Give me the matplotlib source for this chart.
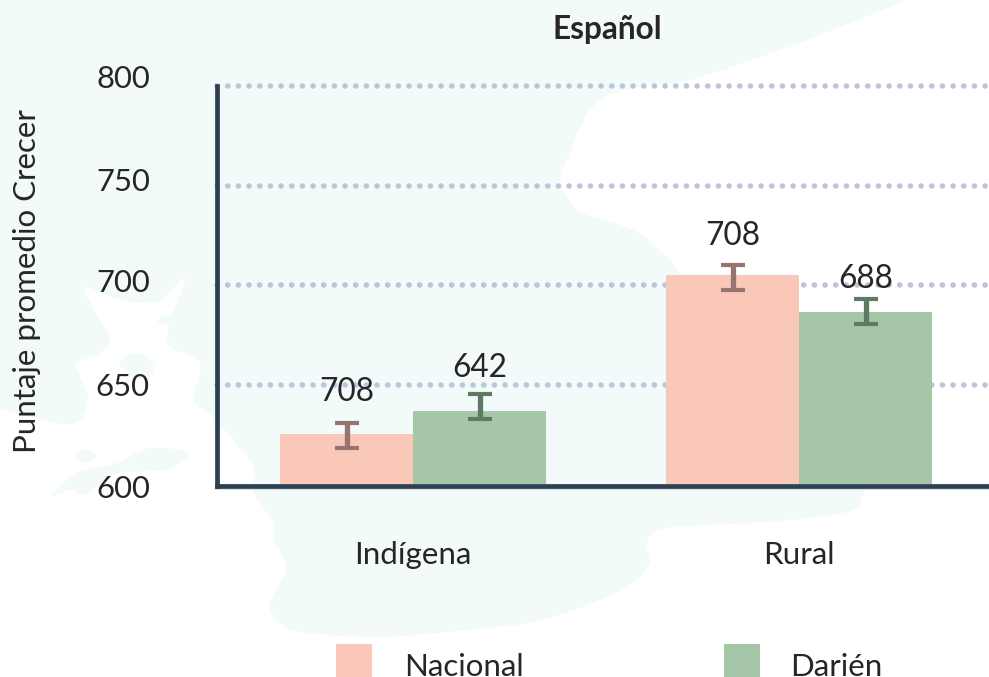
import numpy as np
import matplotlib
matplotlib.use('Agg')
import matplotlib.pyplot as plt
from matplotlib.patches import PathPatch, Ellipse
from matplotlib.path import Path
from matplotlib.transforms import Affine2D, ScaledTranslation

plt.rcParams['font.family'] = ['Lato', 'Carlito', 'Open Sans', 'DejaVu Sans']
plt.rcParams['lines.scale_dashes'] = False

W, H = 989, 677

categories = ['Indígena', 'Rural']
series = ['Nacional', 'Darién']
nacional = [625.2, 705.1]
darien = [636.7, 686.5]
nacional_low = [618.1, 697.6]
nacional_high = [630.7, 710.2]
darien_low = [632.7, 680.5]
darien_high = [645.4, 693.0]
nacional_labels = ['708', '708']
darien_labels = ['642', '688']
yticks = [600, 650, 700, 750, 800]

# how far each label sits above its error bar, in pixels
nacional_pads = [31, 29]
darien_pads = [26, 20]
# the axis numbers are not quite aligned with the grid in the original
ytick_shift = [-2, 0, 4, 6, 9]

# background map outline, in picture pixels
land = [(-20, -20), (500, -20), (930, -20), (905, 0), (850, 23), (780, 50), (690, 80), (640, 86),
        (600, 100), (580, 127), (567, 160), (560, 180), (567, 197), (583, 213), (633, 230),
        (657, 248), (680, 273), (720, 340), (800, 420), (860, 450), (868, 478), (862, 497),
        (847, 512), (767, 522), (667, 528), (647, 543), (650, 562), (633, 583), (593, 603),
        (533, 622), (467, 630), (383, 637), (300, 632), (277, 620), (270, 603), (285, 573),
        (283, 557), (273, 540), (273, 523), (253, 490), (255, 473), (247, 457), (213, 417),
        (193, 400), (200, 363), (167, 340), (185, 280), (165, 297), (150, 303), (120, 300),
        (85, 288), (100, 320), (110, 340), (100, 353), (77, 363), (80, 377), (88, 397),
        (80, 420), (57, 423), (0, 408), (-20, 400)]
island_big = [(52, 495), (77, 473), (117, 463), (150, 448), (187, 452), (185, 460), (163, 470),
              (117, 473), (97, 487), (80, 495), (72, 490)]
island_mid = [(120, 362), (135, 353), (150, 360), (153, 372), (140, 378), (125, 370)]
border_a = [(383, 0), (400, 30), (415, 60), (417, 80), (400, 130), (430, 160)]
border_b = [(430, 160), (380, 165), (360, 190), (315, 205), (325, 225), (295, 265), (258, 280), (250, 340)]
border_c = [(560, 180), (525, 172), (510, 190), (500, 175)]
border_d = [(633, 230), (618, 235), (620, 250), (590, 262), (530, 285), (525, 305), (500, 315)]
border_e = [(413, 490), (405, 505), (415, 530), (440, 560), (475, 590), (480, 620)]
border_f = [(345, 0), (350, 10), (380, 15), (395, 0)]


def smooth(pts, closed=True, n=8):
    # catmull-rom through the traced points
    p = np.array(pts, dtype=float)
    if closed:
        p = np.vstack([p[-1], p, p[0], p[1]])
    else:
        p = np.vstack([p[0], p, p[-1]])
    out = []
    for i in range(1, len(p) - 2):
        for t in np.linspace(0, 1, n, endpoint=False):
            a = 2 * p[i] + (p[i + 1] - p[i - 1]) * t
            b = (2 * p[i - 1] - 5 * p[i] + 4 * p[i + 1] - p[i + 2]) * t**2
            c = (3 * p[i] - p[i - 1] - 3 * p[i + 1] + p[i + 2]) * t**3
            out.append(0.5 * (a + b + c))
    return np.array(out)


fig = plt.figure(figsize=(W / 100, H / 100), dpi=100, facecolor='white')
px = Affine2D().scale(1 / W, -1 / H).translate(0, 1) + fig.transFigure

map_color = '#f2fbf9'
for shape in [land, island_big, island_mid]:
    fig.add_artist(PathPatch(Path(smooth(shape)), fc=map_color, ec='none', transform=px, zorder=-5))
fig.add_artist(Ellipse((85, 456), 22, 12, fc=map_color, ec='none', transform=px, zorder=-5))
fig.add_artist(Ellipse((166, 320), 16, 8, angle=-15, fc=map_color, ec='none', transform=px, zorder=-5))
for line in [border_a, border_b, border_c, border_d, border_e, border_f]:
    xy = smooth(line, closed=False)
    fig.add_artist(plt.Line2D(xy[:, 0], xy[:, 1], color='#f3f8f7', lw=0.8, transform=px, zorder=-4))

# pale edge along the axis lines
fig.add_artist(plt.Line2D([219.4, 219.4], [86, 489], color='#d9e0e6', lw=0.8, transform=px, zorder=-3))
fig.add_artist(plt.Line2D([214, W], [489.4, 489.4], color='#d9e0e6', lw=0.8, transform=px, zorder=-3))

ax = fig.add_axes([216.5 / W, 1 - 484 / H, (W - 216.5) / W, (484 - 86) / H])
ax.patch.set_alpha(0)

x = np.arange(len(categories))
width = 133 / 386
err_color = ['#95756d', '#5f7a63']

ax.set_xlim(-196.5 / 386, 576 / 386)
ax.set_ylim(600, 800)

for y in yticks[1:]:
    ax.axhline(y, color='#bdc5da', lw=4.0, dash_capstyle='round',
               linestyle=(0, (0.1, 7.58)), zorder=1, clip_on=False)

bars1 = ax.bar(x - width / 2, nacional, width, color='#fac8b9', label=series[0], zorder=2)
bars2 = ax.bar(x + width / 2, darien, width, color='#a5c7a7', label=series[1], zorder=2)

for xs, vals, low, high, col in [(x - width / 2, nacional, nacional_low, nacional_high, err_color[0]),
                                 (x + width / 2, darien, darien_low, darien_high, err_color[1])]:
    vals = np.array(vals)
    ax.errorbar(xs, vals, yerr=[vals - np.array(low), np.array(high) - vals], fmt='none',
                ecolor=col, elinewidth=3.8, capsize=8.6, capthick=3, zorder=3)

for xs, high, labels, pads in [(x - width / 2, nacional_high, nacional_labels, nacional_pads),
                               (x + width / 2, darien_high, darien_labels, darien_pads)]:
    for xi, h, t, pad in zip(xs, high, labels, pads):
        ax.annotate(t, (xi, h), xytext=(0, pad * 0.72), textcoords='offset points',
                    ha='center', va='center', fontsize=22.8, color='#262626', zorder=4)

for s in ['top', 'right']:
    ax.spines[s].set_visible(False)
for s in ['left', 'bottom']:
    ax.spines[s].set_color('#2d4053')
    ax.spines[s].set_linewidth(3.4)
ax.spines['bottom'].set_position(('outward', 1.66))
ax.spines['left'].set_bounds(598.85, 800.15)

ax.set_xticks(x)
ax.set_xticklabels(categories, fontsize=22.6, color='#262626')
ax.set_yticks(yticks)
ax.set_yticklabels([str(v) for v in yticks], fontsize=22.4, color='#262626')
ax.tick_params(axis='x', length=0, pad=39.5)
ax.tick_params(axis='y', length=0, pad=48)
for lab, dy in zip(ax.get_yticklabels(), ytick_shift):
    lab.set_transform(lab.get_transform() + ScaledTranslation(0, dy / 100, fig.dpi_scale_trans))

ax.set_ylabel('Puntaje promedio Crecer', fontsize=22.5, color='#262626')
ax.yaxis.set_label_coords((41 - 216.5) / (W - 216.5), (484 - 281) / (484 - 86))

fig.text(607 / W, 1 - 30 / H, 'Español', fontsize=22.8, fontweight='bold', color='#262626',
         ha='center', va='center')

leg = ax.legend(loc='upper left', bbox_to_anchor=(336 / W, 1 - 644 / H), bbox_transform=fig.transFigure,
                ncol=2, frameon=False, fontsize=22.5, borderpad=0, borderaxespad=0,
                handlelength=1.152, handleheight=1.395, handletextpad=1.05, columnspacing=6.4,
                labelcolor='#262626')
# nudge the legend texts, in pixels
for t, off in zip(leg.get_texts(), [(-1, -4), (-3, -4)]):
    t.set_position(off)

fig.savefig('out.png', dpi=100)
